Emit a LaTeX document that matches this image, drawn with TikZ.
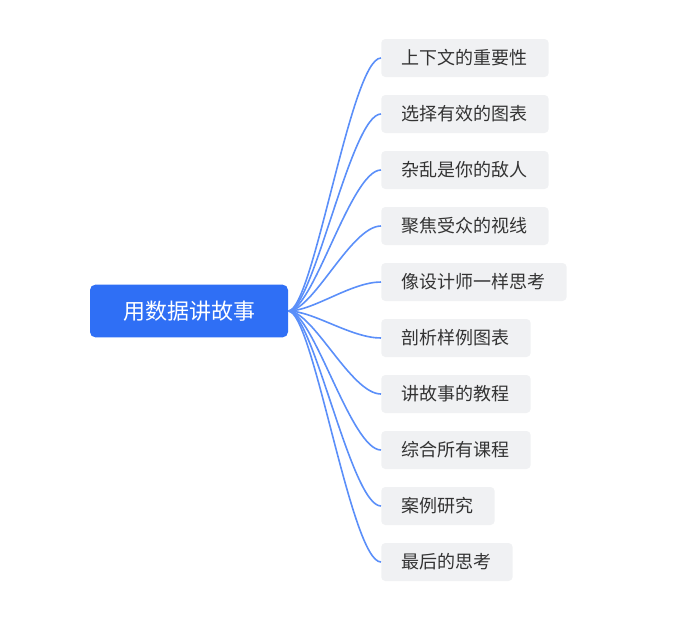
\documentclass[tikz,border=0pt]{standalone}
\usepackage{fontspec}
\newfontfamily\cjk{Noto Sans CJK SC}
\usetikzlibrary{positioning,calc}
\definecolor{rootblue}{HTML}{2F6FF5}
\definecolor{linkblue}{HTML}{5B8FF9}
\definecolor{leafgray}{HTML}{F0F1F3}
\definecolor{leaftext}{HTML}{333333}

\begin{document}
\begin{tikzpicture}[%
	x=0.75pt,
	y=-0.75pt,
	root/.style={%
		rectangle,
		rounded corners=4pt,
		fill=rootblue,
		text=white,
		font=\cjk\fontsize{16.5}{18}\selectfont,
		minimum width=148.5pt,
		minimum height=39.5pt,
		inner sep=0pt
	},
	leaf/.style={%
		rectangle,
		rounded corners=3pt,
		fill=leafgray,
		text=leaftext,
		font=\cjk\fontsize{13.5}{15}\selectfont,
		minimum height=28.5pt,
		inner xsep=15.5pt,
		anchor=west
	},
	link/.style={%
		draw=linkblue,
		line width=1.2pt
	}
	]
	\useasboundingbox (0,0) rectangle (695,622);

	\node[root] (topic) at (189,311) {用数据讲故事};

	\foreach \name/\y/\txt in {%
		c1/58/上下文的重要性,
		c2/114/选择有效的图表,
		c3/170/杂乱是你的敌人,
		c4/226/聚焦受众的视线,
		c5/282/像设计师一样思考,
		c6/338/剖析样例图表,
		c7/394/讲故事的教程,
		c8/450/综合所有课程,
		c9/506/案例研究,
		c10/562/最后的思考}{
		\node[leaf] (\name) at (381,\y) {\txt};
		\draw[link] (topic.east) .. controls ($(topic.east)+(25,0)$) and ($(\name.west)+(-30,0)$) .. (\name.west);
	}
\end{tikzpicture}
\end{document}
